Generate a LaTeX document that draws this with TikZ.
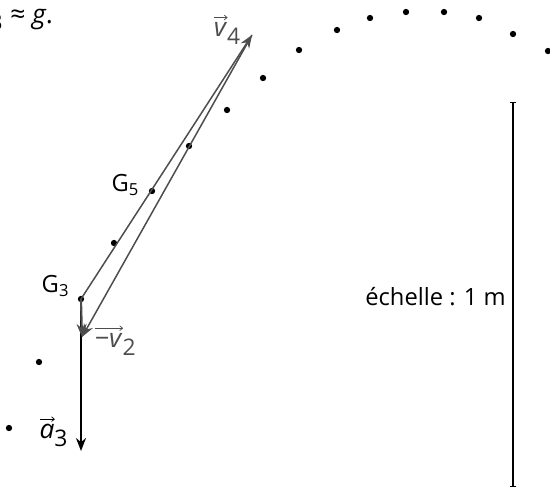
\documentclass[tikz,border=0pt]{standalone}
\usepackage{fontspec}
\setmainfont{Open Sans}
\usetikzlibrary{arrows.meta,positioning}
\definecolor{VecGray}{HTML}{4D4D4D}
\tikzset{%
  pt/.style={circle,fill=black,inner sep=0pt,minimum size=3.6pt},
  lbl/.style={font=\fontsize{13.5}{16}\selectfont,inner sep=1pt},
  veclbl/.style={font=\fontsize{15}{17}\selectfont,inner sep=1pt},
  vecflow/.style={-{Stealth[length=2.6mm,width=2mm]},line width=0.85pt,VecGray},
  dvflow/.style={-{Stealth[length=2.6mm,width=2mm]},line width=1.2pt,VecGray},
  accflow/.style={-{Stealth[length=2.6mm,width=2mm]},line width=0.85pt,black},
  scalebar/.style={{Bar[width=3pt]}-{Bar[width=3pt]},line width=0.7pt}
}
\newsavebox\vecbox
\newcommand{\vecteur}[2]{\sbox\vecbox{\itshape #1\/}%
  \rlap{\raisebox{\dimexpr\ht\vecbox+1.5pt}{\tikz\draw[-{To[length=2pt,width=3pt]},line width=0.4pt] (0pt,0pt) -- (\wd\vecbox,0pt);}}%
  \usebox\vecbox\textsubscript{\fontsize{13}{13}\selectfont #2}}

\begin{document}
\begin{tikzpicture}[x=0.02cm,y=-0.02cm]
  \useasboundingbox (0,0) rectangle (550,488);
  % positions successives
  \node[pt] (G1) at (9,428) {};
  \node[pt] (G2) at (39,362) {};
  \node[pt] (G3) at (81,299) {};
  \node[pt] (G4) at (114,243) {};
  \node[pt] (G5) at (152,191) {};
  \node[pt] (G6) at (189,146) {};
  \node[pt] (G7) at (227,110) {};
  \node[pt] (G8) at (263,78) {};
  \node[pt] (G9) at (299,50) {};
  \node[pt] (G10) at (337,30) {};
  \node[pt] (G11) at (370,18) {};
  \node[pt] (G12) at (406,12) {};
  \node[pt] (G13) at (444,12) {};
  \node[pt] (G14) at (479,18) {};
  \node[pt] (G15) at (513,34) {};
  \node[pt] (G16) at (548,51) {};

  \coordinate (v4tip) at (252,35);
  \coordinate (dvtip) at (82,337);
  \coordinate (a3tip) at (81,451);
  \coordinate (bartop) at (513,102);
  \coordinate (barbot) at (513,487);
  \coordinate (barmid) at (513,297);

  \node[lbl, above left=-1pt and 4pt of G3] (g3lbl) {G\textsubscript{3}};
  \node[lbl, left=4pt of G5, yshift=3.5pt] (g5lbl) {G\textsubscript{5}};
  \node[veclbl, VecGray, left=5pt of v4tip, yshift=3pt] (v4lbl) {\vecteur{v}{4}};
  \node[veclbl, VecGray, right=6pt of dvtip, yshift=-2pt] (v2lbl) {\vecteur{−v}{2}};
  \node[veclbl, left=6pt of a3tip, yshift=11pt] (a3lbl) {\vecteur{a}{3}};
  \node[lbl, left=3pt of barmid] (echelle) {échelle : 1 m};
  \node[veclbl, anchor=base east] (texte) at (55,23) {\vecteur{a}{3} ≈ \textit{g}.};

  \draw[vecflow] (G3.center) -- (v4tip);
  \draw[vecflow] (v4tip) -- (dvtip);
  \draw[accflow] (G3.center) -- (a3tip);
  \draw[dvflow] (G3.center) -- (dvtip);
  \draw[scalebar] (bartop) -- (barbot);
\end{tikzpicture}
\end{document}
